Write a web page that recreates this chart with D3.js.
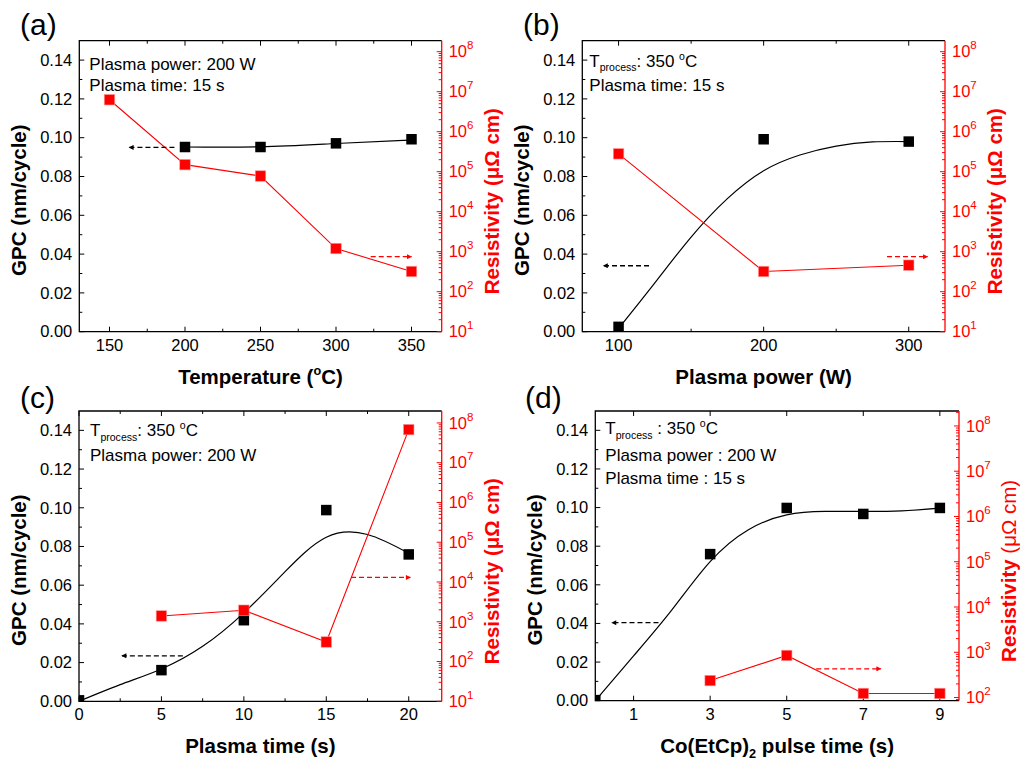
<!DOCTYPE html>
<html>
<head>
<meta charset="utf-8">
<script src="https://cdn.jsdelivr.net/npm/d3@7"></script>
<style>
  body { margin: 0; background: #fff; }
  svg { font-family: "Liberation Sans", Arial, sans-serif; }
</style>
</head>
<body>
<script>
// (a) temperature series
const temperature = [150, 200, 250, 300, 350];
const gpcTempX = [200, 250, 300, 350];
const gpcTemp = [0.0952, 0.0952, 0.0971, 0.0992];
const resTemp = [6.3e6, 1.5e5, 7.8e4, 1.2e3, 3.2e2];
const fitTempX = [200, 250, 300, 350];
const fitTemp = [0.0952, 0.0953, 0.0970, 0.0988];

// (b) plasma power series
const power = [100, 200, 300];
const gpcPower = [0.0025, 0.0992, 0.0980];
const resPower = [2.8e5, 3.2e2, 4.6e2];
const fitPowerX = [100, 125, 150, 175, 200, 225, 250, 275, 300];
const fitPower = [0.0017, 0.0252, 0.0488, 0.0686, 0.083, 0.0911, 0.0957, 0.0978, 0.0980];

// (c) plasma time series
const plasmaTime = [0, 5, 10, 15, 20];
const gpcTime = [0.0005, 0.0161, 0.0419, 0.0988, 0.0759];
const resTimeX = [5, 10, 15, 20];
const resTime = [1.4e3, 1.95e3, 3.1e2, 6.8e7];
const fitTimeX = [0, 2.5, 5, 7.5, 10, 12.5, 15, 17.5, 20];
const fitTime = [0, 0.0086, 0.0167, 0.0284, 0.0457, 0.067, 0.0848, 0.0862, 0.0765];

// (d) precursor pulse time series
const pulseTime = [0, 3, 5, 7, 9];
const gpcPulse = [0.0003, 0.0759, 0.0998, 0.0967, 0.0998];
const resPulseX = [3, 5, 7, 9];
const resPulse = [237, 850, 123, 123];
const fitPulseX = [0, 1, 2, 3, 4, 5, 6, 7, 8, 9];
const fitPulse = [0, 0.0232, 0.047, 0.072, 0.0885, 0.0962, 0.098, 0.098, 0.0983, 0.0997];

const gpcTicks = [0, 0.02, 0.04, 0.06, 0.08, 0.10, 0.12, 0.14];

const RED = '#ff0000';
const svg = d3.select('body').append('svg').attr('width', 1020).attr('height', 766);

const panels = [
  { id: 'a', label: '(a)', box: [79.3, 441.7, 40.7, 331.7], labelPos: [20, 35],
    xDomain: [130, 370], xTicks: [150, 200, 250, 300, 350], xMinor: [175, 225, 275, 325],
    resDomain: [10, Math.pow(10, 8.275)], xTitle: [{ t: 'Temperature (' }, { t: 'o', sup: true }, { t: 'C)' }],
    gpcX: gpcTempX, gpc: gpcTemp, resX: temperature, res: resTemp, fitX: fitTempX, fit: fitTemp,
    blackArrow: [193, 163, 0.095], redArrow: [323, 350, 750],
    notes: [[{ t: 'Plasma power: 200 W' }], [{ t: 'Plasma time: 15 s' }]], noteX: 10, noteY: [29, 50],
    resBold: true },
  { id: 'b', label: '(b)', box: [582.3, 945, 40.7, 331.7], labelPos: [523, 35],
    xDomain: [75, 325], xTicks: [100, 200, 300], xMinor: [150, 250],
    resDomain: [10, Math.pow(10, 8.275)], xTitle: [{ t: 'Plasma power (W)' }],
    gpcX: power, gpc: gpcPower, resX: power, res: resPower, fitX: fitPowerX, fit: fitPower,
    blackArrow: [121, 89.5, 0.034], redArrow: [285, 313, 750],
    notes: [[{ t: 'T' }, { t: 'process', sub: true }, { t: ': 350 ' }, { t: 'o', sup: true }, { t: 'C' }],
            [{ t: 'Plasma time: 15 s' }]], noteX: 7, noteY: [26, 50],
    resBold: true },
  { id: 'c', label: '(c)', box: [79, 441.7, 411, 701.3], labelPos: [20, 408],
    xDomain: [0, 22], xTicks: [0, 5, 10, 15, 20], xMinor: [2.5, 7.5, 12.5, 17.5],
    resDomain: [10, Math.pow(10, 8.3)], xTitle: [{ t: 'Plasma time (s)' }],
    gpcX: plasmaTime, gpc: gpcTime, resX: resTimeX, res: resTime, fitX: fitTimeX, fit: fitTime,
    blackArrow: [6.3, 2.6, 0.0235], redArrow: [16.5, 20.1, 1.3e4],
    notes: [[{ t: 'T' }, { t: 'process', sub: true }, { t: ': 350 ' }, { t: 'o', sup: true }, { t: 'C' }],
            [{ t: 'Plasma power: 200 W' }]], noteX: 11, noteY: [25, 50],
    resBold: true },
  { id: 'd', label: '(d)', box: [595.3, 959, 411, 700.7], labelPos: [525, 408],
    xDomain: [0, 9.5], xTicks: [1, 3, 5, 7, 9], xMinor: [],
    resDomain: [Math.pow(10, 1.93), Math.pow(10, 8.33)],
    xTitle: [{ t: 'Co(EtCp)' }, { t: '2', sub: true }, { t: ' pulse time (s)' }],
    gpcX: pulseTime, gpc: gpcPulse, resX: resPulseX, res: resPulse, fitX: fitPulseX, fit: fitPulse,
    blackArrow: [1.65, 0.43, 0.0404], redArrow: [5.77, 7.46, 430],
    notes: [[{ t: 'T' }, { t: 'process', sub: true }, { t: ' :  350 ' }, { t: 'o', sup: true }, { t: 'C' }],
            [{ t: 'Plasma power : 200 W' }], [{ t: 'Plasma time : 15 s' }]], noteX: 10, noteY: [23, 50, 73],
    resBold: false }
];

// write a run of text pieces with sub/superscripts into a text element
function richText(sel, parts, size) {
  let shift = 0;
  parts.forEach(p => {
    const ts = sel.append('tspan').text(p.t);
    let target = 0;
    if (p.sub) target = size * 0.28;
    if (p.sup) target = -size * 0.42;
    ts.attr('font-size', p.sub || p.sup ? size * 0.62 : size).attr('dy', target - shift);
    shift = target;
  });
}

const defs = svg.append('defs');
['black', RED].forEach((c, i) => {
  defs.append('marker').attr('id', 'arr' + i)
    .attr('viewBox', '0 0 10 10').attr('refX', 9).attr('refY', 5)
    .attr('markerWidth', 7).attr('markerHeight', 5).attr('orient', 'auto-start-reverse')
    .attr('markerUnits', 'userSpaceOnUse')
    .append('path').attr('d', 'M0,0L10,5L0,10Z').attr('fill', c);
});

panels.forEach(p => {
  const [L, R, T, B] = p.box;
  const x = d3.scaleLinear().domain(p.xDomain).range([L, R]);
  const y = d3.scaleLinear().domain([0, 0.15]).range([B, T]);
  const yr = d3.scaleLog().domain(p.resDomain).range([B, T]);
  const g = svg.append('g');

  defs.append('clipPath').attr('id', 'clip' + p.id)
    .append('rect').attr('x', L).attr('y', T).attr('width', R - L).attr('height', B - T);

  // frame
  g.append('path').attr('d', `M${R},${T}H${L}V${B}H${R}`).attr('fill', 'none').attr('stroke', '#000').attr('stroke-width', 1.3);
  g.append('line').attr('x1', R).attr('x2', R).attr('y1', T).attr('y2', B).attr('stroke', RED).attr('stroke-width', 1.3);

  // bottom / top ticks (inward)
  const tickG = g.append('g').attr('stroke', '#000').attr('stroke-width', 1);
  p.xTicks.forEach(v => {
    tickG.append('line').attr('x1', x(v)).attr('x2', x(v)).attr('y1', B).attr('y2', B - 5);
    tickG.append('line').attr('x1', x(v)).attr('x2', x(v)).attr('y1', T).attr('y2', T + 5);
  });
  p.xMinor.forEach(v => {
    tickG.append('line').attr('x1', x(v)).attr('x2', x(v)).attr('y1', B).attr('y2', B - 3);
    tickG.append('line').attr('x1', x(v)).attr('x2', x(v)).attr('y1', T).attr('y2', T + 3);
  });
  g.selectAll('.xl').data(p.xTicks).enter().append('text')
    .attr('x', d => x(d)).attr('y', B + 19).attr('text-anchor', 'middle')
    .attr('font-size', 16.5).text(d => d);

  // left GPC axis
  gpcTicks.forEach(v => {
    tickG.append('line').attr('x1', L).attr('x2', L + 5).attr('y1', y(v)).attr('y2', y(v));
    if (v + 0.01 < 0.15) tickG.append('line').attr('x1', L).attr('x2', L + 3).attr('y1', y(v + 0.01)).attr('y2', y(v + 0.01));
  });
  g.selectAll('.yl').data(gpcTicks).enter().append('text')
    .attr('x', L - 7).attr('y', d => y(d)).attr('dy', '0.35em').attr('text-anchor', 'end')
    .attr('font-size', 16.5).text(d => d3.format('.2f')(d));

  // right log resistivity axis
  const rG = g.append('g').attr('stroke', RED).attr('stroke-width', 1);
  const [lo, hi] = p.resDomain;
  const majors = [];
  for (let e = 0; e <= 9; e++) {
    const v = Math.pow(10, e);
    if (v >= lo * 0.999 && v <= hi) majors.push(e);
    for (let k = 2; k <= 9; k++) {
      const m = k * v;
      if (m >= lo && m <= hi) rG.append('line').attr('x1', R).attr('x2', R - 3).attr('y1', yr(m)).attr('y2', yr(m));
    }
  }
  majors.forEach(e => {
    rG.append('line').attr('x1', R).attr('x2', R - 5).attr('y1', yr(Math.pow(10, e))).attr('y2', yr(Math.pow(10, e)));
    const t = g.append('text').attr('x', R + 7).attr('y', yr(Math.pow(10, e))).attr('dy', '0.35em')
      .attr('fill', RED).attr('font-size', 16.5);
    t.append('tspan').text('10');
    t.append('tspan').attr('font-size', 11.5).attr('dy', -8).text(e);
  });

  // axis titles
  g.append('text').attr('transform', `translate(${L - 60},${(T + B) / 2 + 14}) rotate(-90)`)
    .attr('dy', '0.35em').attr('text-anchor', 'middle').attr('font-weight', 'bold').attr('font-size', 20.5)
    .text('GPC (nm/cycle)');
  const rt = g.append('text').attr('transform', `translate(${R + 50},${(T + B) / 2 + 15}) rotate(-90)`)
    .attr('dy', '0.35em').attr('text-anchor', 'middle').attr('font-size', 20.5).attr('fill', RED);
  rt.append('tspan').attr('font-weight', 'bold').text('Resistivity ');
  rt.append('tspan').attr('font-weight', p.resBold ? 'bold' : 'normal').text('(\u03bc\u03a9 cm)');
  const xt = g.append('text').attr('x', (L + R) / 2).attr('y', B + 52).attr('text-anchor', 'middle')
    .attr('font-weight', 'bold');
  richText(xt, p.xTitle, 20.5);

  // panel label
  g.append('text').attr('x', p.labelPos[0]).attr('y', p.labelPos[1]).attr('font-size', 30).text(p.label);

  // notes
  p.notes.forEach((parts, i) => {
    const nt = g.append('text').attr('x', L + p.noteX).attr('y', T + p.noteY[i]);
    richText(nt, parts, 17);
  });

  // data
  const plot = g.append('g').attr('clip-path', `url(#clip${p.id})`);
  plot.append('path')
    .datum(p.fitX.map((v, i) => [v, p.fit[i]]))
    .attr('d', d3.line().x(d => x(d[0])).y(d => y(d[1])).curve(d3.curveNatural))
    .attr('fill', 'none').attr('stroke', '#000').attr('stroke-width', 1.2);
  plot.append('path')
    .datum(p.resX.map((v, i) => [v, p.res[i]]))
    .attr('d', d3.line().x(d => x(d[0])).y(d => yr(d[1])))
    .attr('fill', 'none').attr('stroke', RED).attr('stroke-width', 1.1);

  const s = 10.5;
  plot.selectAll('.gpc').data(p.gpcX.map((v, i) => [v, p.gpc[i]])).enter().append('rect')
    .attr('x', d => x(d[0]) - s / 2).attr('y', d => y(d[1]) - s / 2)
    .attr('width', s).attr('height', s).attr('fill', '#000');
  plot.selectAll('.res').data(p.resX.map((v, i) => [v, p.res[i]])).enter().append('rect')
    .attr('x', d => x(d[0]) - s / 2).attr('y', d => yr(d[1]) - s / 2)
    .attr('width', s).attr('height', s).attr('fill', RED).attr('stroke', '#ff9a9a').attr('stroke-width', 0.6);

  // dashed arrows
  const [bx1, bx2, by] = p.blackArrow;
  g.append('line').attr('x1', x(bx1)).attr('x2', x(bx2)).attr('y1', y(by)).attr('y2', y(by))
    .attr('stroke', '#000').attr('stroke-width', 1.3).attr('stroke-dasharray', '5,3')
    .attr('marker-end', 'url(#arr0)');
  const [rx1, rx2, ry] = p.redArrow;
  g.append('line').attr('x1', x(rx1)).attr('x2', x(rx2)).attr('y1', yr(ry)).attr('y2', yr(ry))
    .attr('stroke', RED).attr('stroke-width', 1.3).attr('stroke-dasharray', '5,3')
    .attr('marker-end', 'url(#arr1)');
});
</script>
</body>
</html>
